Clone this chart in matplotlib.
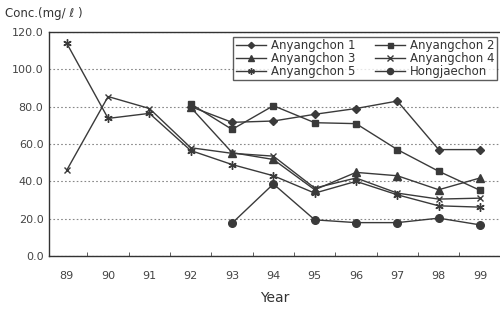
import matplotlib.pyplot as plt
from matplotlib.ticker import FixedLocator, NullFormatter

years = ['89', '90', '91', '92', '93', '94', '95', '96', '97', '98', '99']

# None = no measurement that year
anyang1 = [None, None, None, 80.0, 71.6, 72.3, 75.9, 79.0, 83.0, 57.0, 57.0]
anyang2 = [None, None, None, 81.5, 67.8, 80.5, 71.4, 70.9, 57.0, 45.4, 35.2]
anyang3 = [None, None, None, 79.6, 55.4, 51.7, 35.5, 44.8, 43.0, 35.5, 41.8]
anyang4 = [46.0, 85.4, 79.0, 58.0, 55.0, 53.5, 36.4, 41.8, 33.7, 30.5, 31.0]
anyang5 = [113.9, 73.7, 76.4, 56.5, 49.0, 43.0, 33.7, 40.0, 32.8, 26.9, 26.2]
hongjae = [None, None, None, None, 17.6, 38.6, 19.4, 17.9, 17.9, 20.3, 16.7]

series = [
    ('Anyangchon 1', anyang1, 'D', 4),
    ('Anyangchon 2', anyang2, 's', 4.5),
    ('Anyangchon 3', anyang3, '^', 6),
    ('Anyangchon 4', anyang4, 'x', 5),
    ('Anyangchon 5', anyang5, (6, 2, 0), 6),
    ('Hongjaechon', hongjae, 'o', 5.5),
]

plt.rcParams['font.family'] = 'DejaVu Sans'
fig = plt.figure(figsize=(5, 3.1), dpi=100)
ax = fig.add_axes([0.098, 0.174, 0.905, 0.723])

x = list(range(len(years)))
for name, vals, mk, ms in series:
    xs = [i for i, v in zip(x, vals) if v is not None]
    ys = [v for v in vals if v is not None]
    ax.plot(xs, ys, color='#3a3a3a', lw=1.0, marker=mk, ms=ms,
            mfc='#3a3a3a', mec='#3a3a3a', mew=1.0, label=name)

ax.set_xlim(-0.43, 10.52)
ax.set_ylim(0, 120)
ax.set_yticks([0, 20, 40, 60, 80, 100, 120])
ax.set_yticklabels(['0.0', '20.0', '40.0', '60.0', '80.0', '100.0', '120.0'])
ax.set_xticks(x)
ax.set_xticklabels(years)
ax.xaxis.set_minor_locator(FixedLocator([i + 0.5 for i in range(10)]))
ax.xaxis.set_minor_formatter(NullFormatter())
ax.tick_params(axis='x', which='major', length=0, pad=11, labelsize=8, colors='#444444')
ax.tick_params(axis='x', which='minor', length=3, direction='in', color='#444444')
ax.tick_params(axis='y', length=0, pad=4, labelsize=8, colors='#444444')
ax.yaxis.grid(True, linestyle=(0, (1.5, 2)), color='#888888', lw=0.8)
ax.set_axisbelow(True)
for s in ax.spines.values():
    s.set_color('#333333')
    s.set_linewidth(1.0)

ax.set_xlabel('Year', fontsize=10, color='#333333', labelpad=7)
fig.text(0.01, 0.955, 'Conc.(mg/ ℓ )', fontsize=8.5, color='#333333', va='center')

# legend is filled row by row: 1 2 / 3 4 / 5 Hong
handles, labels = ax.get_legend_handles_labels()
order = [0, 2, 4, 1, 3, 5]
leg = ax.legend([handles[i] for i in order], [labels[i] for i in order],
                ncol=2, loc='upper right', bbox_to_anchor=(0.995, 0.99),
                fontsize=8.5, frameon=True, fancybox=False, edgecolor='#333333',
                handlelength=2.6, columnspacing=1.6, labelspacing=0.0,
                borderpad=0.2, handletextpad=0.4, borderaxespad=0.2,
                markerscale=0.8)
leg.get_frame().set_linewidth(1.0)
for t in leg.get_texts():
    t.set_color('#333333')

fig.savefig('out.png', dpi=100)
